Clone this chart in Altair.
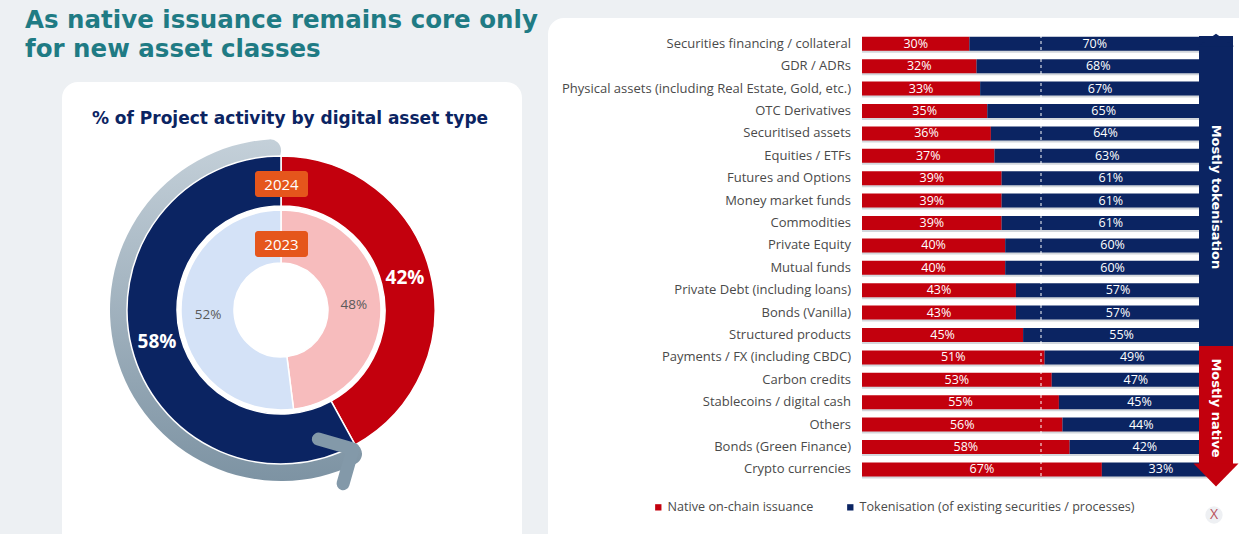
import altair as alt
import pandas as pd

# ---------------- data ----------------
categories = [
    "Securities financing / collateral", "GDR / ADRs",
    "Physical assets (including Real Estate, Gold, etc.)", "OTC Derivatives",
    "Securitised assets", "Equities / ETFs", "Futures and Options",
    "Money market funds", "Commodities", "Private Equity", "Mutual funds",
    "Private Debt (including loans)", "Bonds (Vanilla)", "Structured products",
    "Payments / FX (including CBDC)", "Carbon credits",
    "Stablecoins / digital cash", "Others", "Bonds (Green Finance)",
    "Crypto currencies",
]
native_pct = [30, 32, 33, 35, 36, 37, 39, 39, 39, 40, 40, 43, 43, 45, 51, 53, 55, 56, 58, 67]
token_pct = [70, 68, 67, 65, 64, 63, 61, 61, 61, 60, 60, 57, 57, 55, 49, 47, 45, 44, 42, 33]
series_names = ["Native on-chain issuance", "Tokenisation (of existing securities / processes)"]

donut_years = ["2024", "2023"]
donut_native = [42, 48]
donut_token = [58, 52]

title_lines = ["As native issuance remains core only", "for new asset classes"]
card_title = "% of Project activity by digital asset type"
band_labels = ["Mostly tokenisation", "Mostly native"]

# ---------------- styles ----------------
RED = "#c3000d"
NAVY = "#0b2462"
PINK = "#f7bcbd"
LBLUE = "#d4e2f7"
ORANGE = "#e5561c"
TEAL = "#1f7b84"
TXT = "#4a4a4a"
FONT = "Open Sans"
HFONT = "DejaVu Sans"

# ---------------- tables ----------------
rows = []
for i, c in enumerate(categories):
    rows.append({"cat": c, "series": series_names[0], "value": native_pct[i], "ord": 0})
    rows.append({"cat": c, "series": series_names[1], "value": token_pct[i], "ord": 1})
bars_df = pd.DataFrame(rows)
cat_df = pd.DataFrame({"cat": categories,
                       "total": [a + b for a, b in zip(native_pct, token_pct)]})

outer_df = pd.DataFrame({
    "value": [donut_native[0], donut_token[0]], "ord": [0, 1],
    "col": [RED, NAVY],
    "lab": [f"{donut_native[0]}%", f"{donut_token[0]}%"],
})
inner_df = pd.DataFrame({
    "value": [donut_native[1], donut_token[1]], "ord": [0, 1],
    "col": [PINK, LBLUE],
    "lab": [f"{donut_native[1]}%", f"{donut_token[1]}%"],
})
one = pd.DataFrame({"a": [0]})

# ---------------- scales ----------------
x_scale = alt.Scale(domain=[0, 100], range=[862, 1220], nice=False, zero=True)
y_scale = alt.Scale(domain=categories, range=[32.6, 480.6], paddingInner=0.375, paddingOuter=0.1875)
theta_scale = alt.Scale(domain=[0, 100])
CX, CY = 281, 310

# ---------------- background cards ----------------
left_card = alt.Chart(one).mark_rect(color="white", cornerRadius=16).encode(
    x=alt.value(62), x2=alt.value(522), y=alt.value(82), y2=alt.value(570))
right_card = alt.Chart(one).mark_rect(color="white", cornerRadius=16).encode(
    x=alt.value(548), x2=alt.value(1270), y=alt.value(18), y2=alt.value(570))

title1 = alt.Chart(one).mark_text(align="left", baseline="alphabetic", fontSize=24.5,
                                  fontWeight="bold", color=TEAL, font=HFONT).encode(
    x=alt.value(25), y=alt.value(28), text=alt.value(title_lines[0]))
title2 = alt.Chart(one).mark_text(align="left", baseline="alphabetic", fontSize=24.5,
                                  fontWeight="bold", color=TEAL, font=HFONT).encode(
    x=alt.value(25), y=alt.value(57), text=alt.value(title_lines[1]))
ctitle = alt.Chart(one).mark_text(align="center", baseline="middle", fontSize=17,
                                  fontWeight="bold", color=NAVY, font=HFONT).encode(
    x=alt.value(290), y=alt.value(119), text=alt.value(card_title))

# ---------------- donut ----------------
arrow_grad = alt.LinearGradient(
    gradient="linear", x1=0, y1=0, x2=0, y2=1,
    stops=[alt.GradientStop(offset=0, color="#c4d0d9"),
           alt.GradientStop(offset=1, color="#7d93a3")])
gray_arc = alt.Chart(one).mark_arc(theta=2.62, theta2=6.2832, radius=171, radius2=148,
                                   cornerRadius=11, color=arrow_grad).encode(
    x=alt.value(CX), y=alt.value(CY))
chevron = alt.Chart(one).mark_point(shape="M-1,-1L0,0L-1,1", filled=False, strokeWidth=13,
                                    strokeCap="round", strokeJoin="round", size=2600,
                                    angle=331, color="#8399a9", opacity=1).encode(
    x=alt.value(353), y=alt.value(449))

outer = alt.Chart(outer_df).mark_arc(radius=154, radius2=104, stroke="white",
                                     strokeWidth=1.5).encode(
    theta=alt.Theta("value:Q", stack=True, scale=theta_scale),
    fill=alt.Fill("col:N", scale=None),
    order=alt.Order("ord:Q"),
    x=alt.value(CX), y=alt.value(CY))
inner = alt.Chart(inner_df).mark_arc(radius=100, radius2=47, stroke="white",
                                     strokeWidth=1.5).encode(
    theta=alt.Theta("value:Q", stack=True, scale=theta_scale),
    fill=alt.Fill("col:N", scale=None),
    order=alt.Order("ord:Q"),
    x=alt.value(CX), y=alt.value(CY))
outer_lab = alt.Chart(outer_df).mark_text(radius=128, fontSize=19, fontWeight="bold",
                                          color="white", font=FONT).encode(
    theta=alt.Theta("value:Q", stack=True, scale=theta_scale),
    order=alt.Order("ord:Q"), text="lab:N",
    x=alt.value(CX), y=alt.value(CY))
inner_lab = alt.Chart(inner_df).mark_text(radius=73, fontSize=13.5, color="#5a5a5a",
                                          font=FONT).encode(
    theta=alt.Theta("value:Q", stack=True, scale=theta_scale),
    order=alt.Order("ord:Q"), text="lab:N",
    x=alt.value(CX), y=alt.value(CY))

box24 = alt.Chart(one).mark_rect(color=ORANGE, cornerRadius=3).encode(
    x=alt.value(255), x2=alt.value(308), y=alt.value(171), y2=alt.value(197))
box23 = alt.Chart(one).mark_rect(color=ORANGE, cornerRadius=3).encode(
    x=alt.value(255), x2=alt.value(308), y=alt.value(231), y2=alt.value(257))
t24 = alt.Chart(one).mark_text(fontSize=15, color="white", font=FONT).encode(
    x=alt.value(281.5), y=alt.value(184.5), text=alt.value(donut_years[0]))
t23 = alt.Chart(one).mark_text(fontSize=15, color="white", font=FONT).encode(
    x=alt.value(281.5), y=alt.value(244.5), text=alt.value(donut_years[1]))

# ---------------- bars ----------------
shadow = alt.Chart(cat_df).mark_bar(color="#d3d7dc", yOffset=2).encode(
    x=alt.X("total:Q", scale=x_scale, axis=None),
    y=alt.Y("cat:N", scale=y_scale, axis=None))
bars = alt.Chart(bars_df).mark_bar().encode(
    x=alt.X("value:Q", stack="zero", scale=x_scale, axis=None),
    y=alt.Y("cat:N", scale=y_scale, axis=None),
    color=alt.Color("series:N",
                    scale=alt.Scale(domain=series_names, range=[RED, NAVY]),
                    legend=alt.Legend(orient="none", legendX=652, legendY=501,
                                      direction="horizontal", title=None,
                                      symbolType="square", symbolSize=40,
                                      symbolStrokeWidth=0, labelFontSize=12.6,
                                      labelColor=TXT, labelFont=FONT, labelLimit=500,
                                      labelOffset=3, columnPadding=30, padding=0)),
    order=alt.Order("ord:Q"))
bar_lab = alt.Chart(bars_df).transform_stack(
    stack="value", groupby=["cat"], as_=["v0", "v1"],
    sort=[alt.SortField("ord", order="ascending")]
).transform_calculate(
    mid="(datum.v0 + datum.v1) / 2", lab="datum.value + '%'"
).mark_text(color="white", fontSize=12.5, font=FONT).encode(
    x=alt.X("mid:Q", scale=x_scale, axis=None),
    y=alt.Y("cat:N", scale=y_scale, axis=None),
    text="lab:N")
cat_lab = alt.Chart(cat_df).mark_text(align="right", fontSize=13, color=TXT,
                                      font=FONT).encode(
    x=alt.value(851), y=alt.Y("cat:N", scale=y_scale, axis=None), text="cat:N")
mid_rule = alt.Chart(pd.DataFrame({"v": [50]})).mark_rule(
    color="white", strokeDash=[3, 3], strokeWidth=1).encode(
    x=alt.X("v:Q", scale=x_scale, axis=None), y=alt.value(35), y2=alt.value(482))

# ---------------- right-side arrows ----------------
navy_band = alt.Chart(one).mark_rect(color=NAVY).encode(
    x=alt.value(1199), x2=alt.value(1233), y=alt.value(36), y2=alt.value(346))
navy_tip = alt.Chart(one).mark_point(shape="M-1,0.35L1,0.35L0,-0.35Z", filled=True,
                                     size=1300, color=NAVY, opacity=1).encode(
    x=alt.value(1216), y=alt.value(40))
red_band = alt.Chart(one).mark_rect(color=RED).encode(
    x=alt.value(1199), x2=alt.value(1233), y=alt.value(346), y2=alt.value(464))
red_tip = alt.Chart(one).mark_point(shape="M-1,-0.51L1,-0.51L0,0.51Z", filled=True,
                                    size=2025, color=RED, opacity=1).encode(
    x=alt.value(1216), y=alt.value(475))
band_t1 = alt.Chart(one).mark_text(angle=90, fontSize=13, fontWeight="bold",
                                   color="white", font=HFONT).encode(
    x=alt.value(1216), y=alt.value(197), text=alt.value(band_labels[0]))
band_t2 = alt.Chart(one).mark_text(angle=90, fontSize=13, fontWeight="bold",
                                   color="white", font=HFONT).encode(
    x=alt.value(1216), y=alt.value(408), text=alt.value(band_labels[1]))
logo_c = alt.Chart(one).mark_point(shape="circle", filled=True, size=300,
                                   color="#eef0f3", opacity=1).encode(
    x=alt.value(1214), y=alt.value(515))
logo_t = alt.Chart(one).mark_text(fontSize=14, color="#b9505a", font=FONT).encode(
    x=alt.value(1214), y=alt.value(515), text=alt.value("X"))

chart = alt.layer(
    left_card, right_card, title1, title2, ctitle,
    gray_arc, outer, inner, chevron, outer_lab, inner_lab,
    box24, box23, t24, t23,
    shadow, bars, bar_lab, cat_lab, mid_rule,
    navy_band, navy_tip, red_band, red_tip, band_t1, band_t2, logo_c, logo_t,
).properties(
    width=1239, height=534, padding=0,
    autosize=alt.AutoSizeParams(type="none"),
    background="#edf0f3",
).configure_view(stroke=None)

chart.save("out.html", embed_options={"renderer": "svg", "actions": False})
